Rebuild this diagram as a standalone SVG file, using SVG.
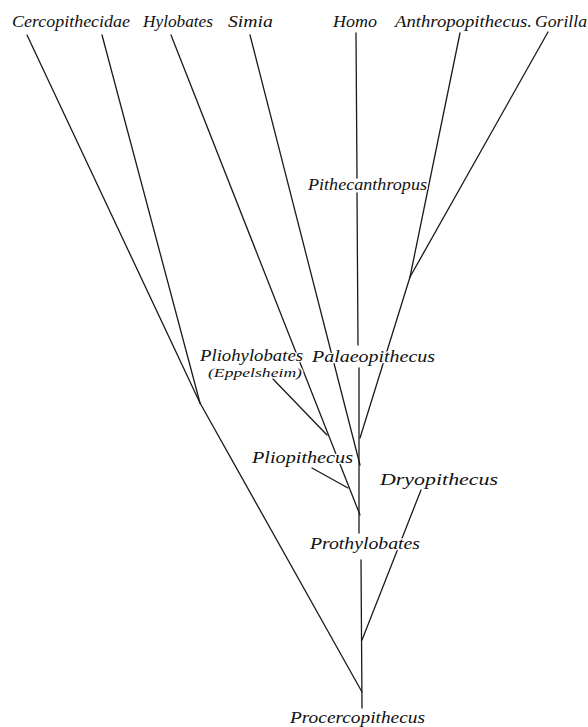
<svg xmlns="http://www.w3.org/2000/svg" width="588" height="727" viewBox="0 0 588 727">
<style>
  .bg { fill: #ffffff; }
  .ln { stroke: #1a1a1a; stroke-width: 1.3; fill: none; stroke-linecap: round; }
  .lb { font-family: "Liberation Serif", "DejaVu Serif", serif; font-style: italic; font-size: 17px; fill: #111; stroke: #ffffff; stroke-width: 2.5px; paint-order: stroke; stroke-linejoin: round; }
  .sm { font-size: 12.5px; }
</style>
<rect class="bg" x="0" y="0" width="588" height="727"/>
<g id="connectors">
  <line class="ln" x1="356" y1="33" x2="357" y2="178"/>
  <line class="ln" x1="357" y1="193" x2="358" y2="345"/>
  <line class="ln" x1="359" y1="368" x2="359" y2="533"/>
  <line class="ln" x1="361" y1="560" x2="362" y2="708"/>
  <line class="ln" x1="27" y1="35" x2="200" y2="403"/>
  <line class="ln" x1="102" y1="35" x2="200" y2="403"/>
  <line class="ln" x1="200" y1="403" x2="362" y2="692"/>
  <line class="ln" x1="171" y1="35" x2="360" y2="515"/>
  <line class="ln" x1="250" y1="35" x2="360" y2="465"/>
  <line class="ln" x1="460" y1="33" x2="410" y2="277"/>
  <line class="ln" x1="548" y1="32" x2="410" y2="277"/>
  <line class="ln" x1="410" y1="277" x2="360" y2="438"/>
  <line class="ln" x1="273" y1="379" x2="327" y2="435"/>
  <line class="ln" x1="312" y1="468" x2="348" y2="488"/>
  <line class="ln" x1="421" y1="490" x2="362" y2="640"/>
</g>
<g id="n-cercopithecidae"><text class="lb" x="12" y="27" textLength="118" lengthAdjust="spacingAndGlyphs">Cercopithecidae</text></g>
<g id="n-hylobates"><text class="lb" x="143" y="27" textLength="70" lengthAdjust="spacingAndGlyphs">Hylobates</text></g>
<g id="n-simia"><text class="lb" x="228" y="27" textLength="45" lengthAdjust="spacingAndGlyphs">Simia</text></g>
<g id="n-homo"><text class="lb" x="333" y="27" textLength="44" lengthAdjust="spacingAndGlyphs">Homo</text></g>
<g id="n-anthropopithecus"><text class="lb" x="395" y="27" textLength="137" lengthAdjust="spacingAndGlyphs">Anthropopithecus.</text></g>
<g id="n-gorilla"><text class="lb" x="535" y="27" textLength="52" lengthAdjust="spacingAndGlyphs">Gorilla</text></g>
<g id="n-pithecanthropus"><text class="lb" x="308" y="190" textLength="119" lengthAdjust="spacingAndGlyphs">Pithecanthropus</text></g>
<g id="n-pliohylobates">
  <text class="lb" x="200" y="361" textLength="103" lengthAdjust="spacingAndGlyphs">Pliohylobates</text>
  <text class="lb sm" x="208" y="377" textLength="94" lengthAdjust="spacingAndGlyphs">(Eppelsheim)</text>
</g>
<g id="n-palaeopithecus"><text class="lb" x="312" y="362" textLength="123" lengthAdjust="spacingAndGlyphs">Palaeopithecus</text></g>
<g id="n-pliopithecus"><text class="lb" x="252" y="463" textLength="101" lengthAdjust="spacingAndGlyphs">Pliopithecus</text></g>
<g id="n-dryopithecus"><text class="lb" x="380" y="485" textLength="118" lengthAdjust="spacingAndGlyphs">Dryopithecus</text></g>
<g id="n-prothylobates"><text class="lb" x="310" y="549" textLength="110" lengthAdjust="spacingAndGlyphs">Prothylobates</text></g>
<g id="n-procercopithecus"><text class="lb" x="290" y="723" textLength="135" lengthAdjust="spacingAndGlyphs">Procercopithecus</text></g>
</svg>
